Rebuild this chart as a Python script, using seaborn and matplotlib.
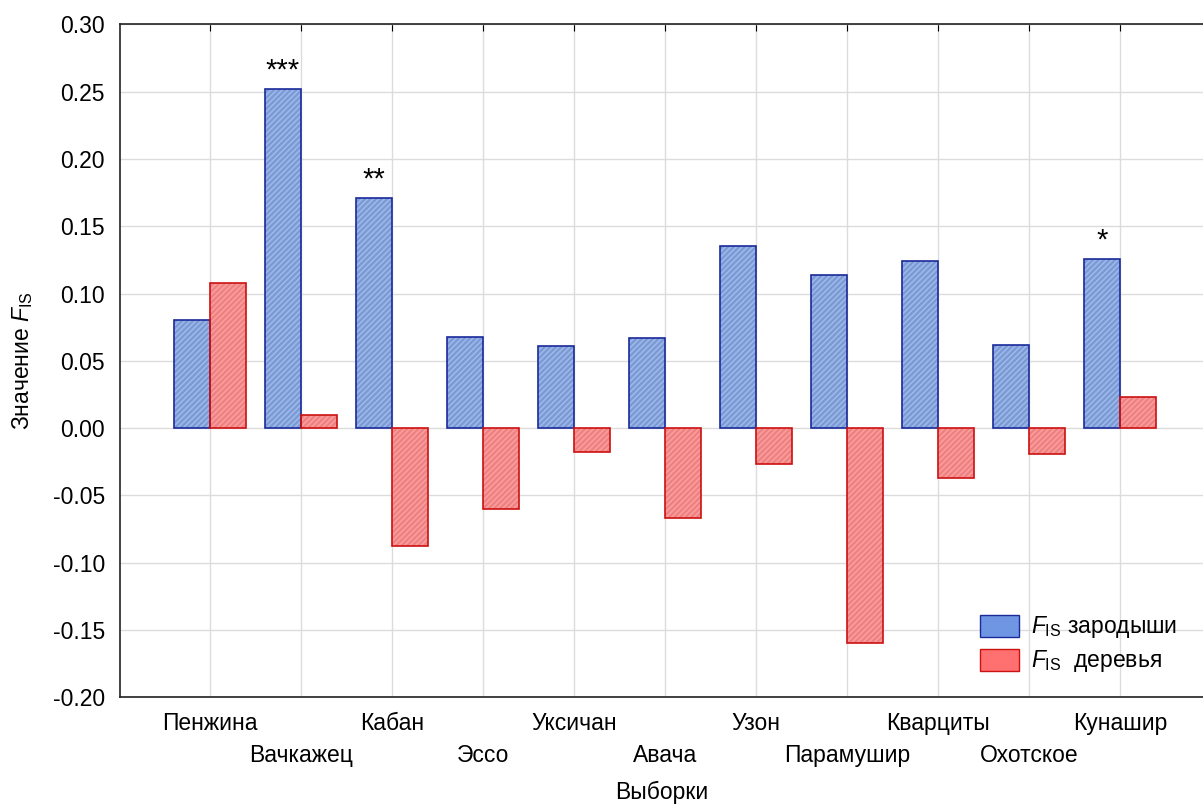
import matplotlib
matplotlib.use("Agg")
import matplotlib.pyplot as plt
from matplotlib.patches import Rectangle, Patch
import seaborn as sns
import pandas as pd

# data
samples = ["Пенжина", "Вачкажец", "Кабан", "Эссо", "Уксичан", "Авача",
           "Узон", "Парамушир", "Кварциты", "Охотское", "Кунашир"]
fis_embryos = [0.080, 0.252, 0.171, 0.068, 0.061, 0.067, 0.135, 0.114, 0.124, 0.062, 0.126]
fis_trees = [0.108, 0.010, -0.088, -0.060, -0.018, -0.067, -0.027, -0.160, -0.037, -0.019, 0.023]
stars = ["", "***", "**", "", "", "", "", "", "", "", "*"]
series = ["зародыши", "деревья"]
yticks = [-0.20, -0.15, -0.10, -0.05, 0.00, 0.05, 0.10, 0.15, 0.20, 0.25, 0.30]

df = pd.DataFrame({
    "sample": samples * 2,
    "fis": fis_embryos + fis_trees,
    "group": [series[0]] * len(samples) + [series[1]] * len(samples),
})

sns.set_style("white")
plt.rcParams["font.family"] = ["Liberation Sans", "DejaVu Sans"]
plt.rcParams["mathtext.fontset"] = "custom"
plt.rcParams["mathtext.rm"] = "Liberation Sans"
plt.rcParams["mathtext.it"] = "Liberation Sans:italic"
plt.rcParams["axes.unicode_minus"] = False
plt.rcParams["text.color"] = "black"
plt.rcParams["axes.labelcolor"] = "black"
plt.rcParams["xtick.color"] = "black"
plt.rcParams["ytick.color"] = "black"

fills = ["#6E96E2", "#FF7070"]
edges = ["#1A2A9A", "#CC1111"]
hatchcol = ["#A0BBF0", "#FFA0A0"]
fs = 16.5

fig = plt.figure(figsize=(12.03, 8.05), dpi=100)
ax = fig.add_axes([0.0998, 0.134, 0.9002, 0.8356])

sns.barplot(data=df, x="sample", y="fis", hue="group", order=samples,
            hue_order=series, palette=fills, width=0.8, gap=0,
            legend=False, ax=ax, zorder=3)

for k, cont in enumerate(ax.containers):
    for bar in cont:
        bar.set_edgecolor("none")
        # fine hatch over the fill, then the outline on top
        ax.add_patch(Rectangle(bar.get_xy(), bar.get_width(), bar.get_height(),
                               fill=False, hatch="//////", edgecolor=hatchcol[k],
                               linewidth=0, zorder=3.5))
        ax.add_patch(Rectangle(bar.get_xy(), bar.get_width(), bar.get_height(),
                               fill=False, edgecolor=edges[k], linewidth=1.2, zorder=4))

# significance marks above embryo bars
for bar, s in zip(ax.containers[0], stars):
    if s:
        ax.text(bar.get_x() + bar.get_width() / 2, bar.get_height() + 0.003, s,
                ha="center", va="bottom", fontsize=21, zorder=5)

ax.set_ylim(-0.20, 0.30)
ax.set_yticks(yticks)
ax.set_yticklabels([f"{v:.2f}" for v in yticks])
ax.set_xlim(-0.989, 10.912)

ax.grid(True, color="#DCDCDC", linewidth=1, zorder=0)
ax.set_axisbelow(True)
for side in ["left", "top", "bottom"]:
    ax.spines[side].set_color("#222222")
    ax.spines[side].set_linewidth(1.2)
ax.spines["right"].set_visible(False)

ax.tick_params(axis="x", direction="in", length=5, top=True, labelsize=fs, pad=10.4)
ax.tick_params(axis="y", direction="in", length=5, labelsize=fs, pad=11)
for i, tick in enumerate(ax.xaxis.get_major_ticks()):
    if i % 2 == 1:
        tick.set_pad(33.8)

ax.set_xlabel("Выборки", fontsize=fs)
ax.xaxis.set_label_coords(0.5, -0.125)
ax.set_ylabel(r"Значение $\mathit{F}_{\mathrm{IS}}$", fontsize=fs, labelpad=12.5)

handles = [Patch(facecolor=fills[k], edgecolor=edges[k]) for k in range(2)]
labels = [r"$\mathit{F}_{\mathrm{IS}}$ зародыши", r"$\mathit{F}_{\mathrm{IS}}$  деревья"]
ax.legend(handles, labels, loc="lower right", bbox_to_anchor=(0.995, 0.003),
          frameon=False, fontsize=fs, handlelength=1.7, handleheight=1.1,
          handletextpad=0.5, labelspacing=0.35)

fig.savefig("out.png", dpi=100)
